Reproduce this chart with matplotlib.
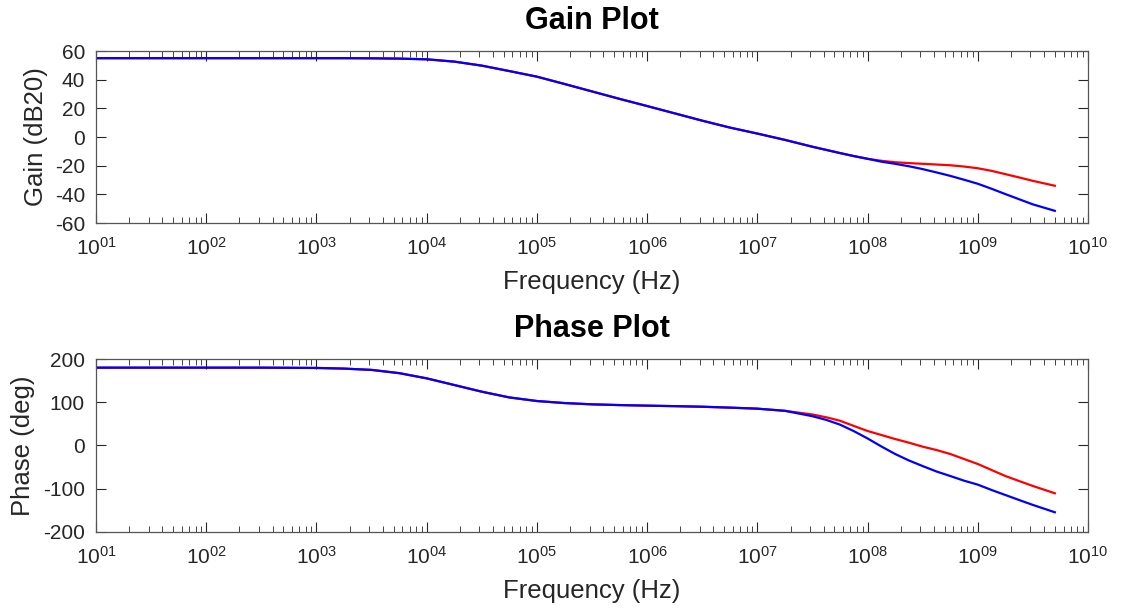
import numpy as np
import matplotlib
matplotlib.use("Agg")
import matplotlib.pyplot as plt
from matplotlib.ticker import FixedLocator, FuncFormatter, NullFormatter

plt.rcParams["font.family"] = ["Liberation Sans", "DejaVu Sans"]
plt.rcParams["mathtext.fontset"] = "custom"
plt.rcParams["mathtext.rm"] = "Liberation Sans"
plt.rcParams["mathtext.it"] = "Liberation Sans"
plt.rcParams["axes.unicode_minus"] = False

log_f = [1, 2, 2.5, 3, 3.25, 3.5, 3.75, 4, 4.25, 4.5, 4.75, 5, 5.25, 5.5,
         5.75, 6, 6.25, 6.5, 6.75, 7, 7.25, 7.5, 7.625, 7.75, 7.875, 8,
         8.125, 8.25, 8.375, 8.5, 8.625, 8.75, 8.875, 9, 9.125, 9.25,
         9.375, 9.5, 9.699]

gain_red = [55, 55, 55, 55, 55, 54.9, 54.7, 54.2, 52.6, 49.8, 46.0, 42.1,
            37.0, 31.8, 26.6, 21.6, 16.5, 11.4, 6.6, 2.4, -2.0, -6.8, -9.0,
            -11.2, -13.3, -15.2, -16.6, -17.6, -18.2, -18.7, -19.2, -19.7,
            -20.6, -21.8, -23.6, -25.9, -28.2, -30.6, -34.0]
gain_blue = [55, 55, 55, 55, 55, 54.9, 54.7, 54.2, 52.6, 49.8, 46.0, 42.1,
             37.0, 31.8, 26.6, 21.6, 16.5, 11.4, 6.6, 2.4, -2.0, -6.8, -9.0,
             -11.2, -13.3, -15.2, -17.2, -18.7, -20.4, -22.4, -24.7, -27.1,
             -29.8, -32.6, -36.1, -39.8, -43.4, -47.0, -51.5]

phase_red = [180, 180, 180, 179.3, 177.8, 174.8, 167.3, 155.2, 139.8, 124.3,
             111.0, 102.7, 98.0, 95.0, 93.3, 92.0, 90.8, 89.5, 87.4, 85.0,
             80.0, 71.5, 65.0, 57.0, 45.0, 33.3, 24.0, 14.7, 6.2, -3.0,
             -10.8, -20.0, -31.6, -43.2, -57.1, -71.0, -82.6, -94.1, -111.0]
phase_blue = [180, 180, 180, 179.3, 177.8, 174.8, 167.3, 155.2, 139.8, 124.3,
              111.0, 102.7, 98.0, 95.0, 93.3, 92.0, 90.8, 89.5, 87.4, 85.0,
              80.0, 67.5, 59.0, 48.0, 33.0, 16.0, -2.5, -20.0, -35.0, -48.0,
              -60.5, -71.0, -81.8, -91.0, -103.4, -115.0, -126.6, -138.0,
              -155.0]

freq = [10 ** e for e in log_f]

fig = plt.figure(figsize=(11.22, 6.08), dpi=100)
ax1 = fig.add_axes([0.0856, 0.6332, 0.8841, 0.2829])
ax2 = fig.add_axes([0.0856, 0.1255, 0.8841, 0.2840])


def exp_label(v, pos):
    e = int(round(np.log10(v)))
    return r"10$^{%02d}$" % e


major = [10.0 ** k for k in range(1, 11)]
minor = [m * 10.0 ** k for k in range(1, 10) for m in range(2, 10)]

for ax, red, blue, ylim, yticks, ylabel, ypad, title in [
    (ax1, gain_red, gain_blue, (-60, 60), np.arange(-60, 61, 20),
     "Gain (dB20)", 5, "Gain Plot"),
    (ax2, phase_red, phase_blue, (-200, 200), np.arange(-200, 201, 100),
     "Phase (deg)", 6, "Phase Plot"),
]:
    ax.plot(freq, red, color="#ff0000", linewidth=1.6)
    ax.plot(freq, blue, color="#0000ff", linewidth=1.6)
    ax.set_xscale("log")
    ax.set_xlim(1e1, 1e10)
    ax.set_ylim(*ylim)
    ax.set_yticks(yticks)
    ax.xaxis.set_major_locator(FixedLocator(major))
    ax.xaxis.set_minor_locator(FixedLocator(minor))
    ax.xaxis.set_major_formatter(FuncFormatter(exp_label))
    ax.xaxis.set_minor_formatter(NullFormatter())
    ax.tick_params(which="both", direction="in", top=True, right=True,
                   colors="#262626", labelcolor="#262626")
    ax.tick_params(which="major", length=7, width=0.8, labelsize=15)
    ax.tick_params(axis="x", which="major", pad=10)
    ax.tick_params(axis="y", which="major", pad=8)
    ax.tick_params(which="minor", length=4, width=0.6)
    for s in ax.spines.values():
        s.set_color("#555555")
        s.set_linewidth(0.9)
    ax.set_xlabel("Frequency (Hz)", fontsize=18.5, color="#262626", labelpad=8)
    ax.set_ylabel(ylabel, fontsize=18.5, color="#262626", labelpad=ypad)
    ax.set_title(title, fontsize=22, fontweight="bold", pad=16)

fig.savefig("out.png", dpi=100)
